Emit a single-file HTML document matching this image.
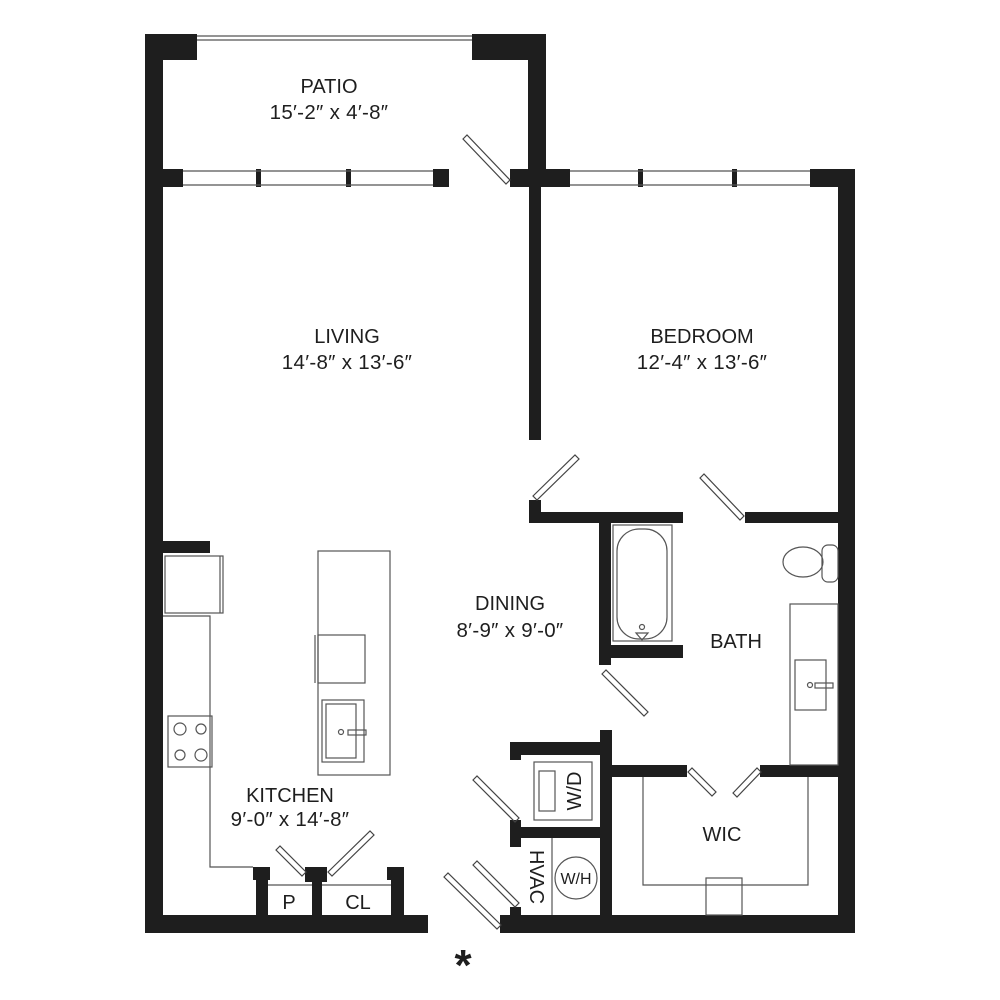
<!DOCTYPE html>
<html><head><meta charset="utf-8"><style>
html,body{margin:0;padding:0;background:#fff}
svg{display:block}
text{font-family:"Liberation Sans",sans-serif;fill:#1e1e1e;font-size:20px;text-anchor:middle}
.d{font-size:20.5px;letter-spacing:0.3px}
</style></head><body>
<svg width="1000" height="1000" viewBox="0 0 1000 1000" xmlns="http://www.w3.org/2000/svg">
<g fill="#1e1e1e">
<rect x="145" y="34" width="18" height="899"/>
<rect x="145" y="34" width="52" height="26"/>
<rect x="472" y="34" width="74" height="26"/>
<rect x="528" y="34" width="18" height="153"/>
<rect x="145" y="169" width="38" height="18"/>
<rect x="433" y="169" width="16" height="18"/>
<rect x="256" y="169" width="5" height="18"/>
<rect x="346" y="169" width="5" height="18"/>
<rect x="510" y="169" width="60" height="18"/>
<rect x="529" y="169" width="12" height="271"/>
<rect x="638" y="169" width="5" height="18"/>
<rect x="732" y="169" width="5" height="18"/>
<rect x="810" y="169" width="45" height="18"/>
<rect x="838" y="169" width="17" height="764"/>
<rect x="145" y="915" width="283" height="18"/>
<rect x="500" y="915" width="355" height="18"/>
<rect x="529" y="500" width="12" height="23"/>
<rect x="529" y="512" width="154" height="11"/>
<rect x="745" y="512" width="93" height="11"/>
<rect x="599" y="512" width="12" height="153"/>
<rect x="599" y="645" width="84" height="13"/>
<rect x="611" y="765" width="76" height="12"/>
<rect x="760" y="765" width="78" height="12"/>
<rect x="600" y="730" width="12" height="185"/>
<rect x="510" y="742" width="90" height="13"/>
<rect x="510" y="742" width="11" height="18"/>
<rect x="510" y="827" width="90" height="11"/>
<rect x="510" y="820" width="11" height="27"/>
<rect x="510" y="907" width="11" height="10"/>
<rect x="163" y="541" width="47" height="12"/>
<rect x="253" y="867" width="17" height="13"/>
<rect x="256" y="867" width="12" height="48"/>
<rect x="305" y="867" width="22" height="15"/>
<rect x="312" y="867" width="10" height="48"/>
<rect x="387" y="867" width="17" height="13"/>
<rect x="391" y="867" width="13" height="48"/>
</g>
<g fill="none" stroke="#555" stroke-width="1.2">
<line x1="197" y1="36" x2="472" y2="36"/><line x1="197" y1="40" x2="472" y2="40"/>
<line x1="183" y1="171" x2="433" y2="171"/><line x1="183" y1="185" x2="433" y2="185"/>
<line x1="570" y1="171" x2="810" y2="171"/><line x1="570" y1="185" x2="810" y2="185"/>
<g stroke="#444">
<polygon points="463,139 467,135 510,180 506,184"/>
<polygon points="533,496 575,455 579,459 537,500"/>
<polygon points="700,478 704,474 744,516 740,520"/>
<polygon points="602,674 606,670 648,712 644,716"/>
<polygon points="688,772 692,768 716,792 712,796"/>
<polygon points="733,793 757,768 761,772 737,797"/>
<polygon points="473,780 477,776 519,818 515,822"/>
<polygon points="473,865 477,861 519,903 515,907"/>
<polygon points="444,877 448,873 501,925 497,929"/>
<polygon points="276,850 280,846 306,872 302,876"/>
<polygon points="328,872 370,831 374,835 332,876"/>
</g>
<rect x="613" y="525" width="59" height="116"/>
<rect x="617" y="529" width="50" height="110" rx="22"/>
<circle cx="642" cy="627" r="2.5"/>
<polygon points="636,633 648,633 642,640"/>
<ellipse cx="803" cy="562" rx="20" ry="15"/>
<rect x="822" y="545" width="16" height="37" rx="6"/>
<rect x="790" y="604" width="48" height="161"/>
<rect x="795" y="660" width="31" height="50"/>
<circle cx="810" cy="685" r="2.5"/>
<rect x="815" y="683" width="18" height="5"/>
<rect x="534" y="762" width="58" height="58"/>
<rect x="539" y="771" width="16" height="40"/>
<line x1="552" y1="838" x2="552" y2="915"/>
<circle cx="576" cy="878" r="21"/>
<polyline points="643,777 643,885 808,885 808,777"/>
<rect x="706" y="878" width="36" height="37"/>
<rect x="165" y="556" width="58" height="57"/>
<line x1="220" y1="556" x2="220" y2="613"/>
<polyline points="163,616 210,616 210,867 253,867"/>
<rect x="168" y="716" width="44" height="51"/>
<circle cx="180" cy="729" r="6"/><circle cx="201" cy="729" r="5"/>
<circle cx="180" cy="755" r="5"/><circle cx="201" cy="755" r="6"/>
<rect x="318" y="551" width="72" height="224"/>
<rect x="318" y="635" width="47" height="48"/>
<line x1="315" y1="635" x2="315" y2="683"/>
<rect x="322" y="700" width="42" height="62"/>
<rect x="326" y="704" width="30" height="54"/>
<circle cx="341" cy="732" r="2.5"/>
<rect x="348" y="730" width="18" height="5"/>
<line x1="268" y1="885" x2="312" y2="885"/>
<line x1="322" y1="885" x2="391" y2="885"/>
</g>
<text x="329" y="93">PATIO</text>
<text class="d" x="329" y="119">15′-2″ x 4′-8″</text>
<text x="347" y="343">LIVING</text>
<text class="d" x="347" y="369">14′-8″ x 13′-6″</text>
<text x="702" y="343">BEDROOM</text>
<text class="d" x="702" y="369">12′-4″ x 13′-6″</text>
<text x="510" y="610">DINING</text>
<text class="d" x="510" y="637">8′-9″ x 9′-0″</text>
<text x="736" y="648">BATH</text>
<text x="722" y="841">WIC</text>
<text x="290" y="802">KITCHEN</text>
<text class="d" x="290" y="826">9′-0″ x 14′-8″</text>
<text x="289" y="909">P</text>
<text x="358" y="909">CL</text>
<text x="0" y="0" transform="translate(581,791) rotate(-90)">W/D</text>
<text x="0" y="0" transform="translate(530,877) rotate(90)">HVAC</text>
<text x="576" y="884" style="font-size:16px">W/H</text>
<text x="463" y="980" style="font-size:44px;font-weight:bold">*</text>
</svg>
</body></html>
